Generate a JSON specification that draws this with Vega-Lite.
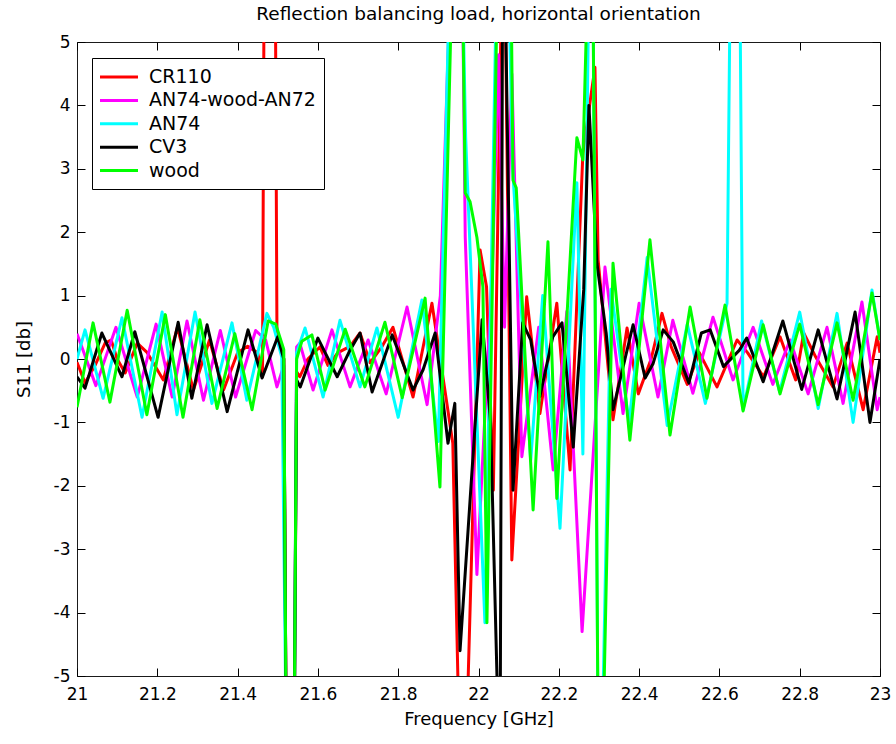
{
"$schema": "https://vega.github.io/schema/vega-lite/v6.json",
"width": 803, "height": 634,
"autosize": {"type": "none"},
"padding": {"left": 77, "top": 42, "right": 16, "bottom": 68},
"background": "white",
"config": {"view": {"stroke": "#1a1a1a", "strokeWidth": 1}, "font": "DejaVu Sans"},
"title": {"text": "Reflection balancing load, horizontal orientation", "font": "DejaVu Sans", "fontSize": 18.5, "fontWeight": "normal", "color": "black", "anchor": "middle", "frame": "group", "offset": 17, "dy": 22, "baseline": "alphabetic"},
"datasets": {"s": [
{"series":"CR110","freq":21.000,"s11":-0.05},{"series":"CR110","freq":21.020,"s11":-0.38},{"series":"CR110","freq":21.045,"s11":-0.1},{"series":"CR110","freq":21.070,"s11":0.25},{"series":"CR110","freq":21.085,"s11":0.3},{"series":"CR110","freq":21.100,"s11":0.0},{"series":"CR110","freq":21.120,"s11":-0.22},{"series":"CR110","freq":21.150,"s11":0.25},{"series":"CR110","freq":21.175,"s11":0.1},{"series":"CR110","freq":21.215,"s11":-0.33},{"series":"CR110","freq":21.250,"s11":0.5},{"series":"CR110","freq":21.290,"s11":-0.49},{"series":"CR110","freq":21.330,"s11":0.3},{"series":"CR110","freq":21.365,"s11":-0.49},{"series":"CR110","freq":21.400,"s11":0.1},{"series":"CR110","freq":21.425,"s11":0.2},{"series":"CR110","freq":21.450,"s11":0.1},{"series":"CR110","freq":21.462,"s11":-0.28},{"series":"CR110","freq":21.466,"s11":6},{"series":"CR110","freq":21.494,"s11":6},{"series":"CR110","freq":21.498,"s11":0.4},{"series":"CR110","freq":21.510,"s11":0.1},{"series":"CR110","freq":21.515,"s11":0.0},{"series":"CR110","freq":21.521,"s11":-6},{"series":"CR110","freq":21.541,"s11":-6},{"series":"CR110","freq":21.547,"s11":-0.2},{"series":"CR110","freq":21.555,"s11":-0.28},{"series":"CR110","freq":21.575,"s11":0.0},{"series":"CR110","freq":21.605,"s11":0.19},{"series":"CR110","freq":21.625,"s11":-0.1},{"series":"CR110","freq":21.650,"s11":0.1},{"series":"CR110","freq":21.680,"s11":0.2},{"series":"CR110","freq":21.705,"s11":0.41},{"series":"CR110","freq":21.730,"s11":-0.06},{"series":"CR110","freq":21.760,"s11":0.2},{"series":"CR110","freq":21.787,"s11":0.5},{"series":"CR110","freq":21.837,"s11":-0.6},{"series":"CR110","freq":21.884,"s11":0.88},{"series":"CR110","freq":21.936,"s11":-1.33},{"series":"CR110","freq":21.952,"s11":-6},{"series":"CR110","freq":21.970,"s11":-6},{"series":"CR110","freq":22.004,"s11":1.72},{"series":"CR110","freq":22.020,"s11":1.14},{"series":"CR110","freq":22.037,"s11":-2.07},{"series":"CR110","freq":22.058,"s11":6},{"series":"CR110","freq":22.066,"s11":6},{"series":"CR110","freq":22.083,"s11":-3.17},{"series":"CR110","freq":22.120,"s11":0.98},{"series":"CR110","freq":22.153,"s11":-0.86},{"series":"CR110","freq":22.195,"s11":0.88},{"series":"CR110","freq":22.228,"s11":-1.75},{"series":"CR110","freq":22.260,"s11":3.25},{"series":"CR110","freq":22.290,"s11":4.6},{"series":"CR110","freq":22.298,"s11":1.56},{"series":"CR110","freq":22.335,"s11":-0.96},{"series":"CR110","freq":22.370,"s11":0.49},{"series":"CR110","freq":22.398,"s11":-0.55},{"series":"CR110","freq":22.430,"s11":0.0},{"series":"CR110","freq":22.457,"s11":0.72},{"series":"CR110","freq":22.480,"s11":0.19},{"series":"CR110","freq":22.520,"s11":-0.4},{"series":"CR110","freq":22.550,"s11":0.1},{"series":"CR110","freq":22.594,"s11":-0.44},{"series":"CR110","freq":22.644,"s11":0.3},{"series":"CR110","freq":22.670,"s11":0.1},{"series":"CR110","freq":22.710,"s11":-0.28},{"series":"CR110","freq":22.751,"s11":0.35},{"series":"CR110","freq":22.790,"s11":-0.33},{"series":"CR110","freq":22.810,"s11":0.41},{"series":"CR110","freq":22.840,"s11":0.03},{"series":"CR110","freq":22.883,"s11":-0.44},{"series":"CR110","freq":22.918,"s11":0.25},{"series":"CR110","freq":22.958,"s11":-0.8},{"series":"CR110","freq":22.993,"s11":0.35},{"series":"CR110","freq":23.000,"s11":0.1},
{"series":"AN74-wood-AN72","freq":21.000,"s11":0.4},{"series":"AN74-wood-AN72","freq":21.047,"s11":-0.42},{"series":"AN74-wood-AN72","freq":21.097,"s11":0.5},{"series":"AN74-wood-AN72","freq":21.150,"s11":-0.6},{"series":"AN74-wood-AN72","freq":21.197,"s11":0.55},{"series":"AN74-wood-AN72","freq":21.237,"s11":-0.6},{"series":"AN74-wood-AN72","freq":21.274,"s11":0.6},{"series":"AN74-wood-AN72","freq":21.315,"s11":-0.65},{"series":"AN74-wood-AN72","freq":21.357,"s11":0.45},{"series":"AN74-wood-AN72","freq":21.395,"s11":-0.6},{"series":"AN74-wood-AN72","freq":21.445,"s11":0.45},{"series":"AN74-wood-AN72","freq":21.470,"s11":0.3},{"series":"AN74-wood-AN72","freq":21.498,"s11":-0.44},{"series":"AN74-wood-AN72","freq":21.515,"s11":-0.1},{"series":"AN74-wood-AN72","freq":21.521,"s11":-6},{"series":"AN74-wood-AN72","freq":21.541,"s11":-6},{"series":"AN74-wood-AN72","freq":21.547,"s11":0.19},{"series":"AN74-wood-AN72","freq":21.555,"s11":0.25},{"series":"AN74-wood-AN72","freq":21.588,"s11":-0.49},{"series":"AN74-wood-AN72","freq":21.635,"s11":0.46},{"series":"AN74-wood-AN72","freq":21.680,"s11":-0.44},{"series":"AN74-wood-AN72","freq":21.725,"s11":0.3},{"series":"AN74-wood-AN72","freq":21.770,"s11":-0.55},{"series":"AN74-wood-AN72","freq":21.822,"s11":0.82},{"series":"AN74-wood-AN72","freq":21.872,"s11":-0.72},{"series":"AN74-wood-AN72","freq":21.905,"s11":1.0},{"series":"AN74-wood-AN72","freq":21.930,"s11":6},{"series":"AN74-wood-AN72","freq":21.960,"s11":6},{"series":"AN74-wood-AN72","freq":21.967,"s11":1.92},{"series":"AN74-wood-AN72","freq":21.996,"s11":-3.4},{"series":"AN74-wood-AN72","freq":22.035,"s11":1.5},{"series":"AN74-wood-AN72","freq":22.050,"s11":4.8},{"series":"AN74-wood-AN72","freq":22.065,"s11":0.5},{"series":"AN74-wood-AN72","freq":22.083,"s11":4.5},{"series":"AN74-wood-AN72","freq":22.108,"s11":-1.54},{"series":"AN74-wood-AN72","freq":22.150,"s11":0.5},{"series":"AN74-wood-AN72","freq":22.186,"s11":-1.75},{"series":"AN74-wood-AN72","freq":22.220,"s11":0.75},{"series":"AN74-wood-AN72","freq":22.258,"s11":-4.3},{"series":"AN74-wood-AN72","freq":22.315,"s11":1.45},{"series":"AN74-wood-AN72","freq":22.360,"s11":-0.86},{"series":"AN74-wood-AN72","freq":22.400,"s11":0.88},{"series":"AN74-wood-AN72","freq":22.447,"s11":-0.6},{"series":"AN74-wood-AN72","freq":22.484,"s11":0.61},{"series":"AN74-wood-AN72","freq":22.534,"s11":-0.54},{"series":"AN74-wood-AN72","freq":22.584,"s11":0.66},{"series":"AN74-wood-AN72","freq":22.634,"s11":-0.33},{"series":"AN74-wood-AN72","freq":22.684,"s11":0.5},{"series":"AN74-wood-AN72","freq":22.733,"s11":-0.4},{"series":"AN74-wood-AN72","freq":22.776,"s11":0.3},{"series":"AN74-wood-AN72","freq":22.821,"s11":-0.55},{"series":"AN74-wood-AN72","freq":22.868,"s11":0.5},{"series":"AN74-wood-AN72","freq":22.908,"s11":-0.7},{"series":"AN74-wood-AN72","freq":22.955,"s11":0.9},{"series":"AN74-wood-AN72","freq":22.993,"s11":-0.8},{"series":"AN74-wood-AN72","freq":23.000,"s11":-0.6},
{"series":"AN74","freq":21.000,"s11":0.0},{"series":"AN74","freq":21.020,"s11":0.46},{"series":"AN74","freq":21.065,"s11":-0.62},{"series":"AN74","freq":21.112,"s11":0.65},{"series":"AN74","freq":21.162,"s11":-0.92},{"series":"AN74","freq":21.212,"s11":0.74},{"series":"AN74","freq":21.249,"s11":-0.88},{"series":"AN74","freq":21.294,"s11":0.74},{"series":"AN74","freq":21.336,"s11":-0.7},{"series":"AN74","freq":21.386,"s11":0.57},{"series":"AN74","freq":21.423,"s11":-0.65},{"series":"AN74","freq":21.473,"s11":0.72},{"series":"AN74","freq":21.490,"s11":0.5},{"series":"AN74","freq":21.510,"s11":0.03},{"series":"AN74","freq":21.521,"s11":-6},{"series":"AN74","freq":21.541,"s11":-6},{"series":"AN74","freq":21.547,"s11":0.1},{"series":"AN74","freq":21.568,"s11":0.49},{"series":"AN74","freq":21.613,"s11":-0.6},{"series":"AN74","freq":21.655,"s11":0.61},{"series":"AN74","freq":21.705,"s11":-0.44},{"series":"AN74","freq":21.747,"s11":0.49},{"series":"AN74","freq":21.800,"s11":-0.92},{"series":"AN74","freq":21.859,"s11":0.93},{"series":"AN74","freq":21.900,"s11":-1.3},{"series":"AN74","freq":21.928,"s11":6},{"series":"AN74","freq":21.960,"s11":6},{"series":"AN74","freq":21.968,"s11":3.5},{"series":"AN74","freq":22.016,"s11":-4.16},{"series":"AN74","freq":22.045,"s11":6},{"series":"AN74","freq":22.075,"s11":6},{"series":"AN74","freq":22.085,"s11":3.0},{"series":"AN74","freq":22.130,"s11":-1.6},{"series":"AN74","freq":22.160,"s11":1.0},{"series":"AN74","freq":22.203,"s11":-2.67},{"series":"AN74","freq":22.245,"s11":2.78},{"series":"AN74","freq":22.260,"s11":-1.5},{"series":"AN74","freq":22.275,"s11":6},{"series":"AN74","freq":22.285,"s11":6},{"series":"AN74","freq":22.298,"s11":-6},{"series":"AN74","freq":22.308,"s11":-6},{"series":"AN74","freq":22.330,"s11":1.1},{"series":"AN74","freq":22.375,"s11":-1.0},{"series":"AN74","freq":22.420,"s11":1.6},{"series":"AN74","freq":22.470,"s11":-1.05},{"series":"AN74","freq":22.520,"s11":0.55},{"series":"AN74","freq":22.565,"s11":-0.7},{"series":"AN74","freq":22.619,"s11":0.88},{"series":"AN74","freq":22.627,"s11":6},{"series":"AN74","freq":22.651,"s11":6},{"series":"AN74","freq":22.659,"s11":-0.8},{"series":"AN74","freq":22.705,"s11":0.6},{"series":"AN74","freq":22.750,"s11":-0.52},{"series":"AN74","freq":22.800,"s11":0.74},{"series":"AN74","freq":22.846,"s11":-0.78},{"series":"AN74","freq":22.893,"s11":0.72},{"series":"AN74","freq":22.933,"s11":-1.0},{"series":"AN74","freq":22.980,"s11":1.09},{"series":"AN74","freq":23.000,"s11":0.3},
{"series":"CV3","freq":21.000,"s11":-0.28},{"series":"CV3","freq":21.020,"s11":-0.46},{"series":"CV3","freq":21.062,"s11":0.41},{"series":"CV3","freq":21.112,"s11":-0.28},{"series":"CV3","freq":21.144,"s11":0.43},{"series":"CV3","freq":21.202,"s11":-0.92},{"series":"CV3","freq":21.252,"s11":0.58},{"series":"CV3","freq":21.286,"s11":-0.62},{"series":"CV3","freq":21.324,"s11":0.54},{"series":"CV3","freq":21.374,"s11":-0.83},{"series":"CV3","freq":21.426,"s11":0.46},{"series":"CV3","freq":21.461,"s11":-0.3},{"series":"CV3","freq":21.500,"s11":0.35},{"series":"CV3","freq":21.515,"s11":0.0},{"series":"CV3","freq":21.521,"s11":-6},{"series":"CV3","freq":21.541,"s11":-6},{"series":"CV3","freq":21.547,"s11":-0.33},{"series":"CV3","freq":21.556,"s11":-0.44},{"series":"CV3","freq":21.600,"s11":0.33},{"series":"CV3","freq":21.648,"s11":-0.28},{"series":"CV3","freq":21.680,"s11":0.14},{"series":"CV3","freq":21.705,"s11":0.41},{"series":"CV3","freq":21.735,"s11":-0.52},{"series":"CV3","freq":21.785,"s11":0.38},{"series":"CV3","freq":21.837,"s11":-0.49},{"series":"CV3","freq":21.862,"s11":-0.17},{"series":"CV3","freq":21.892,"s11":0.41},{"series":"CV3","freq":21.924,"s11":-1.33},{"series":"CV3","freq":21.941,"s11":-0.7},{"series":"CV3","freq":21.954,"s11":-4.6},{"series":"CV3","freq":22.009,"s11":0.62},{"series":"CV3","freq":22.030,"s11":-1.0},{"series":"CV3","freq":22.050,"s11":-6},{"series":"CV3","freq":22.054,"s11":-6},{"series":"CV3","freq":22.060,"s11":6},{"series":"CV3","freq":22.066,"s11":6},{"series":"CV3","freq":22.086,"s11":-2.07},{"series":"CV3","freq":22.110,"s11":0.57},{"series":"CV3","freq":22.130,"s11":0.3},{"series":"CV3","freq":22.153,"s11":-0.59},{"series":"CV3","freq":22.185,"s11":0.35},{"series":"CV3","freq":22.208,"s11":0.57},{"series":"CV3","freq":22.236,"s11":-1.39},{"series":"CV3","freq":22.262,"s11":1.09},{"series":"CV3","freq":22.275,"s11":4.0},{"series":"CV3","freq":22.295,"s11":1.51},{"series":"CV3","freq":22.318,"s11":0.41},{"series":"CV3","freq":22.335,"s11":-0.8},{"series":"CV3","freq":22.385,"s11":0.54},{"series":"CV3","freq":22.415,"s11":-0.3},{"series":"CV3","freq":22.435,"s11":-0.07},{"series":"CV3","freq":22.460,"s11":0.46},{"series":"CV3","freq":22.485,"s11":0.27},{"series":"CV3","freq":22.524,"s11":-0.38},{"series":"CV3","freq":22.555,"s11":0.41},{"series":"CV3","freq":22.577,"s11":0.46},{"series":"CV3","freq":22.610,"s11":-0.12},{"series":"CV3","freq":22.650,"s11":0.14},{"series":"CV3","freq":22.668,"s11":0.33},{"series":"CV3","freq":22.709,"s11":-0.36},{"series":"CV3","freq":22.758,"s11":0.6},{"series":"CV3","freq":22.805,"s11":-0.48},{"series":"CV3","freq":22.846,"s11":0.46},{"series":"CV3","freq":22.893,"s11":-0.63},{"series":"CV3","freq":22.938,"s11":0.74},{"series":"CV3","freq":22.975,"s11":-1.0},{"series":"CV3","freq":23.000,"s11":0.0},
{"series":"wood","freq":21.000,"s11":-0.76},{"series":"wood","freq":21.040,"s11":0.57},{"series":"wood","freq":21.082,"s11":-0.68},{"series":"wood","freq":21.125,"s11":0.77},{"series":"wood","freq":21.174,"s11":-0.88},{"series":"wood","freq":21.220,"s11":0.70},{"series":"wood","freq":21.264,"s11":-0.92},{"series":"wood","freq":21.306,"s11":0.62},{"series":"wood","freq":21.349,"s11":-0.78},{"series":"wood","freq":21.393,"s11":0.40},{"series":"wood","freq":21.436,"s11":-0.80},{"series":"wood","freq":21.476,"s11":0.60},{"series":"wood","freq":21.495,"s11":0.55},{"series":"wood","freq":21.515,"s11":0.15},{"series":"wood","freq":21.521,"s11":-6},{"series":"wood","freq":21.541,"s11":-6},{"series":"wood","freq":21.547,"s11":0.0},{"series":"wood","freq":21.560,"s11":0.28},{"series":"wood","freq":21.585,"s11":0.38},{"series":"wood","freq":21.618,"s11":-0.49},{"series":"wood","freq":21.668,"s11":0.47},{"series":"wood","freq":21.717,"s11":-0.44},{"series":"wood","freq":21.767,"s11":0.58},{"series":"wood","freq":21.810,"s11":-0.61},{"series":"wood","freq":21.867,"s11":0.96},{"series":"wood","freq":21.904,"s11":-2.02},{"series":"wood","freq":21.934,"s11":6},{"series":"wood","freq":21.960,"s11":6},{"series":"wood","freq":21.967,"s11":2.62},{"series":"wood","freq":21.979,"s11":2.48},{"series":"wood","freq":21.996,"s11":1.92},{"series":"wood","freq":22.011,"s11":1.14},{"series":"wood","freq":22.021,"s11":-4.16},{"series":"wood","freq":22.047,"s11":6},{"series":"wood","freq":22.081,"s11":6},{"series":"wood","freq":22.086,"s11":2.82},{"series":"wood","freq":22.094,"s11":2.7},{"series":"wood","freq":22.136,"s11":-2.38},{"series":"wood","freq":22.173,"s11":1.85},{"series":"wood","freq":22.195,"s11":-2.2},{"series":"wood","freq":22.245,"s11":3.49},{"series":"wood","freq":22.260,"s11":3.14},{"series":"wood","freq":22.272,"s11":6},{"series":"wood","freq":22.285,"s11":6},{"series":"wood","freq":22.298,"s11":-6},{"series":"wood","freq":22.310,"s11":-6},{"series":"wood","freq":22.335,"s11":1.51},{"series":"wood","freq":22.377,"s11":-1.28},{"series":"wood","freq":22.427,"s11":1.88},{"series":"wood","freq":22.477,"s11":-1.2},{"series":"wood","freq":22.527,"s11":0.82},{"series":"wood","freq":22.569,"s11":-0.62},{"series":"wood","freq":22.614,"s11":0.85},{"series":"wood","freq":22.659,"s11":-0.82},{"series":"wood","freq":22.709,"s11":0.54},{"series":"wood","freq":22.751,"s11":-0.55},{"series":"wood","freq":22.800,"s11":0.55},{"series":"wood","freq":22.846,"s11":-0.72},{"series":"wood","freq":22.893,"s11":0.57},{"series":"wood","freq":22.933,"s11":-0.65},{"series":"wood","freq":22.980,"s11":1.04},{"series":"wood","freq":23.000,"s11":0.3}
], "frame": [{"freq": 21, "s11": 0}]},
"layer": [
{"data": {"name": "s"},
 "mark": {"type": "line", "strokeWidth": 3, "clip": true, "strokeJoin": "round"},
 "encoding": {
  "x": {"field": "freq", "type": "quantitative", "scale": {"domain": [21, 23], "nice": false, "zero": false},
   "axis": {"orient": "bottom", "title": "Frequency [GHz]", "values": [21,21.2,21.4,21.6,21.8,22,22.2,22.4,22.6,22.8,23], "format": "~g", "grid": false, "domain": false, "tickSize": -8, "tickColor": "black", "labelPadding": 18, "labelFont": "DejaVu Sans", "labelFontSize": 17, "labelColor": "black", "labelFlush": false, "labelOverlap": false, "titleFont": "DejaVu Sans", "titleFontSize": 18, "titleFontWeight": "normal", "titleColor": "black", "titleX": 401.5, "titleY": 48, "titleAlign": "center", "titleBaseline": "alphabetic"}},
  "y": {"field": "s11", "type": "quantitative", "scale": {"domain": [-5, 5], "nice": false, "zero": false},
   "axis": {"orient": "left", "title": "S11 [db]", "values": [-5,-4,-3,-2,-1,0,1,2,3,4,5], "labelExpr": "datum.value + ''", "grid": false, "domain": false, "tickSize": -8, "tickColor": "black", "labelPadding": 15, "labelFont": "DejaVu Sans", "labelFontSize": 17, "labelColor": "black", "labelFlush": false, "labelOverlap": false, "titleFont": "DejaVu Sans", "titleFontSize": 18, "titleFontWeight": "normal", "titleColor": "black", "titleX": -48, "titleY": 317, "titleAngle": -90, "titleAlign": "center", "titleBaseline": "alphabetic"}},
  "color": {"field": "series", "type": "nominal",
   "scale": {"domain": ["CR110", "AN74-wood-AN72", "AN74", "CV3", "wood"], "range": ["#ff0000", "#ff00ff", "#00ffff", "#000000", "#00ff00"]},
   "legend": {"orient": "none", "legendX": 15, "legendY": 16, "title": null, "direction": "vertical", "fillColor": "white", "strokeColor": "black", "padding": 8, "symbolType": "M-2,0H2", "symbolSize": 361, "symbolStrokeWidth": 3, "symbolOffset": 8, "labelFont": "DejaVu Sans", "labelFontSize": 19, "labelColor": "black", "labelOffset": 19, "rowPadding": 2.4, "labelLimit": 400}}
 }},
{"data": {"name": "frame"},
 "mark": {"type": "point", "opacity": 0},
 "encoding": {
  "x": {"field": "freq", "type": "quantitative", "scale": {"domain": [21, 23], "nice": false, "zero": false},
   "axis": {"orient": "top", "title": null, "labels": false, "values": [21,21.2,21.4,21.6,21.8,22,22.2,22.4,22.6,22.8,23], "grid": false, "domain": false, "tickSize": -8, "tickColor": "black"}},
  "y": {"field": "s11", "type": "quantitative", "scale": {"domain": [-5, 5], "nice": false, "zero": false},
   "axis": {"orient": "right", "title": null, "labels": false, "values": [-5,-4,-3,-2,-1,0,1,2,3,4,5], "grid": false, "domain": false, "tickSize": -8, "tickColor": "black"}}
 }}
],
"resolve": {"axis": {"x": "independent", "y": "independent"}}
}
